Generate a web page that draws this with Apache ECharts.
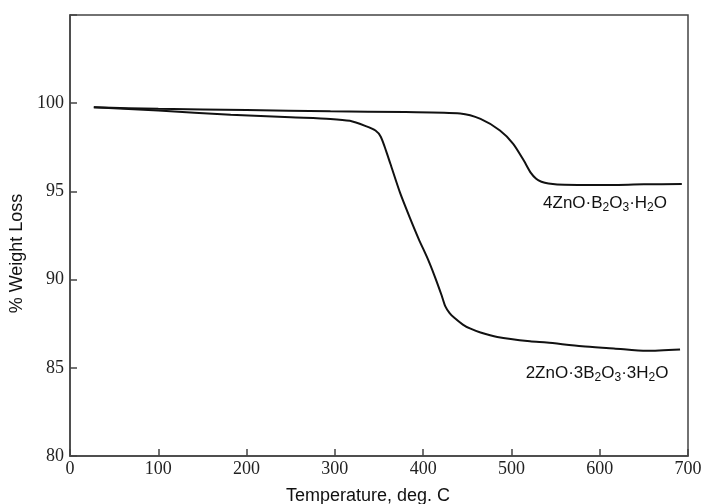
<!DOCTYPE html>
<html>
<head>
<meta charset="utf-8">
<script src="https://cdn.jsdelivr.net/npm/echarts@6/dist/echarts.min.js"></script>
<style>
html,body{margin:0;padding:0;background:#fff;}
#chart{width:705px;height:504px;}
</style>
</head>
<body>
<div id="chart"></div>
<script>
// 4ZnO·B2O3·H2O
var tempA = [27, 100, 200, 295, 380, 442, 465, 487, 502, 514, 522, 528, 534, 542, 560, 600, 650, 693];
var lossA = [99.77, 99.68, 99.61, 99.54, 99.5, 99.42, 99.11, 98.45, 97.7, 96.75, 96.05, 95.72, 95.55, 95.45, 95.37, 95.36, 95.4, 95.42];
// 2ZnO·3B2O3·3H2O
var tempB = [27, 100, 182, 250, 295, 317, 335, 346, 352, 358, 363, 374, 385, 395, 405, 413, 421, 425, 430, 435, 445, 453, 465, 484, 521, 540, 580, 616, 653, 691];
var lossB = [99.77, 99.58, 99.35, 99.2, 99.11, 99.0, 98.7, 98.45, 98.1, 97.3, 96.55, 94.9, 93.5, 92.3, 91.2, 90.2, 89.1, 88.5, 88.1, 87.85, 87.45, 87.23, 87.0, 86.75, 86.5, 86.43, 86.22, 86.1, 85.96, 86.04];

var labelA = {text: '4ZnO·B{s|2}O{s|3}·H{s|2}O', at: [606, 94.82]};
var labelB = {text: '2ZnO·3B{s|2}O{s|3}·3H{s|2}O', at: [597, 85.2]};

var xTicks = {min: 0, max: 700, step: 100};
var yTicks = {min: 80, max: 105, step: 5};

function pairs(xs, ys){ return xs.map(function(x,i){ return [x, ys[i]]; }); }

var rich = {
  s: {fontSize: 12, fontFamily: 'Liberation Sans', color: '#111', lineHeight: 12, padding: [7,0,0,0], verticalAlign: 'top'}
};
function mark(lbl){
  return {
    symbol: 'circle', symbolSize: 0, silent: true,
    data: [{coord: lbl.at}],
    label: {
      show: true, position: 'inside',
      formatter: lbl.text,
      fontFamily: 'Liberation Sans', fontSize: 17, color: '#111',
      lineHeight: 18, verticalAlign: 'top',
      rich: rich
    }
  };
}

var chart = echarts.init(document.getElementById('chart'));
chart.setOption({
  animation: false,
  backgroundColor: '#fff',
  grid: {left: 70, right: 17, top: 15, bottom: 48, containLabel: false, outerBoundsMode: 'none',
         show: true, borderColor: '#444', borderWidth: 1.5, backgroundColor: 'transparent'},
  xAxis: {
    type: 'value', min: xTicks.min, max: xTicks.max, interval: xTicks.step,
    name: 'Temperature, deg. C', nameLocation: 'middle', nameGap: 31,
    nameTextStyle: {fontFamily: 'Liberation Sans', fontSize: 18, color: '#111', padding: [0, 22, 0, 0]},
    axisLine: {lineStyle: {color: '#444', width: 1.5}},
    axisTick: {inside: true, length: 7, lineStyle: {color: '#444', width: 1.5}},
    axisLabel: {fontFamily: 'Liberation Serif', fontSize: 18, color: '#222', margin: 4},
    splitLine: {show: false}
  },
  yAxis: {
    type: 'value', min: yTicks.min, max: yTicks.max, interval: yTicks.step,
    name: '% Weight Loss', nameLocation: 'middle', nameGap: 40,
    nameTextStyle: {fontFamily: 'Liberation Sans', fontSize: 18, color: '#111', padding: [0, 36, 0, 0]},
    axisLine: {lineStyle: {color: '#444', width: 1.5}},
    axisTick: {inside: true, length: 7, lineStyle: {color: '#444', width: 1.5}},
    axisLabel: {fontFamily: 'Liberation Serif', fontSize: 18, color: '#222', margin: 6,
      formatter: function(v){ return v === yTicks.max ? '' : String(v); }},
    splitLine: {show: false}
  },
  series: [
    {type: 'line', data: pairs(tempA, lossA), showSymbol: false, smooth: 0.25,
     lineStyle: {color: '#111', width: 2}, markPoint: mark(labelA)},
    {type: 'line', data: pairs(tempB, lossB), showSymbol: false, smooth: 0.25,
     lineStyle: {color: '#111', width: 2}, markPoint: mark(labelB)}
  ]
});
</script>
</body>
</html>
